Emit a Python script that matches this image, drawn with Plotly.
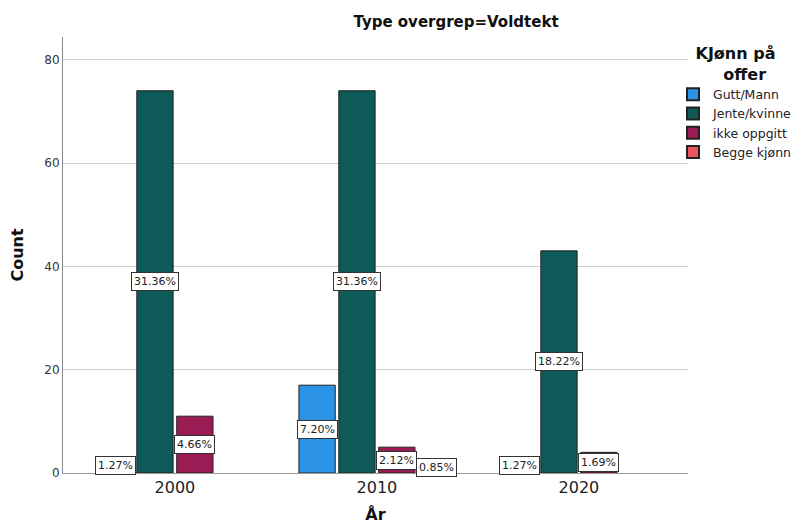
import plotly.graph_objects as go

years = ["2000", "2010", "2020"]
series_names = ["Gutt/Mann", "Jente/kvinne", "ikke oppgitt", "Begge kjønn"]
gutt_mann = [3, 17, 3]
jente_kvinne = [74, 74, 43]
ikke_oppgitt = [11, 5, 4]
begge_kjonn = [None, 2, None]
colors = ["#2A93E6", "#0D5A58", "#9B1C55", "#F0545C"]

series_values = [gutt_mann, jente_kvinne, ikke_oppgitt, begge_kjonn]
total = sum(v for s in series_values for v in s if v is not None)

fig = go.Figure()
for name, vals, col in zip(series_names, series_values, colors):
    fig.add_trace(go.Bar(
        name=name, x=years, y=vals,
        marker=dict(color=col, line=dict(color="#222222", width=1)),
    ))

# page has an 8px body margin, so the figure is drawn 8px in from the top-left
off = 8
W, H = 802 - off, 532 - off
plot_l, plot_r, plot_t, plot_b = 63 - off, 688 - off, 37 - off, 473 - off
cat_px = 202.0
bargap = 0.21
slot_px = cat_px * (1 - bargap) / 4

annotations = []
for i, vals in enumerate(series_values):
    for j, v in enumerate(vals):
        if v is None:
            continue
        annotations.append(dict(
            x=j, y=v / 2, xref="x", yref="y",
            xshift=(i - 1.5) * slot_px,
            text=f"{100 * v / total:.2f}%", showarrow=False,
            font=dict(family="DejaVu Sans", size=11, color="#222222"),
            bgcolor="white", bordercolor="#333333", borderwidth=1, borderpad=2,
        ))

fig.update_layout(
    width=W, height=H,
    margin=dict(l=plot_l, r=W - plot_r, t=plot_t, b=H - plot_b, autoexpand=False),
    paper_bgcolor="white", plot_bgcolor="white",
    barmode="group", bargap=bargap, bargroupgap=0.09,
    font=dict(family="DejaVu Sans", color="#222222"),
    title=dict(text="<b>Type overgrep=Voldtekt</b>", x=(456 - off) / W, xanchor="center",
               y=1 - (22 - off) / H, yanchor="middle", font=dict(size=15, color="#111111")),
    xaxis=dict(
        type="category",
        range=[-0.554, 2.54],
        showline=True, linecolor="#999999", linewidth=1,
        ticks="", tickfont=dict(size=16, color="#222222"),
        title=dict(text="<b>År</b>", font=dict(size=16, color="#111111"), standoff=12),
        showgrid=False,
    ),
    yaxis=dict(
        range=[0, 84.4],
        tickvals=[0, 20, 40, 60, 80],
        showline=True, linecolor="#888888", linewidth=1,
        showgrid=True, gridcolor="#CFCFCF", gridwidth=1,
        zeroline=False,
        ticks="outside", ticklen=0, tickfont=dict(size=12, color="#333333"),
        title=dict(text="<b>Count</b>", font=dict(size=16, color="#111111"), standoff=22),
    ),
    legend=dict(
        x=(673 - 63) / (688 - 63), xanchor="left",
        y=(473 - 38) / (473 - 37), yanchor="top",
        title=dict(text="<b>KJønn på<br>&nbsp;&nbsp;&nbsp;&nbsp;&nbsp;offer</b>", side="top center",
                   font=dict(size=16, color="#111111")),
        font=dict(size=12.5, color="#222222"),
        tracegroupgap=0, itemsizing="constant",
        bgcolor="rgba(0,0,0,0)",
    ),
    annotations=annotations,
)

fig.write_html("out.html")
